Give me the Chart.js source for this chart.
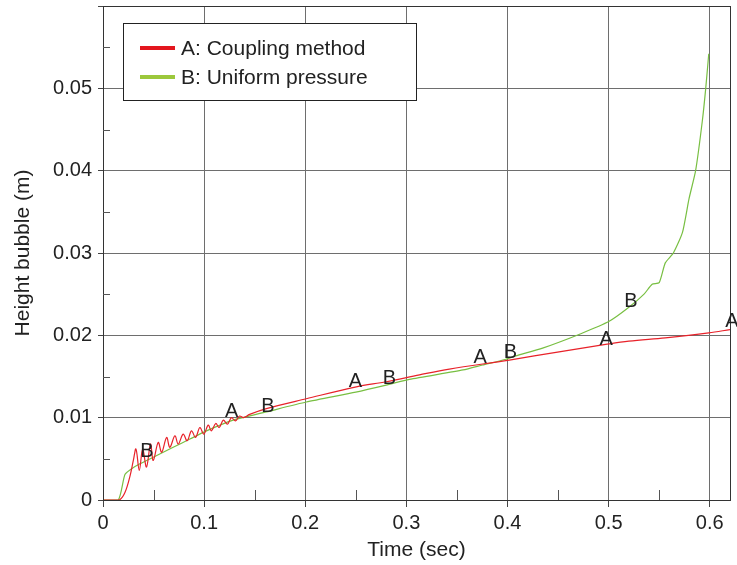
<!DOCTYPE html>
<html lang="en">
<head>
    <meta charset="UTF-8">
    <title>Height bubble vs time</title>
    <script src="https://cdn.jsdelivr.net/npm/chart.js"></script>
    <style>
        html, body { margin: 0; padding: 0; background: #fff; }
        .container { width: 737px; height: 565px; }
    </style>
</head>
<body>
    <div class="container">
        <canvas id="myChart" width="737" height="565"></canvas>
    </div>

    <script>
        // A: coupling method (red)
        const timeA = [0, 0.016, 0.0217, 0.0267, 0.030, 0.0326, 0.0359, 0.0392, 0.043, 0.047, 0.0497,
            0.0546, 0.058, 0.0629, 0.0661, 0.0711, 0.0744, 0.0793, 0.0832, 0.0875, 0.0915, 0.0958,
            0.0997, 0.104, 0.1072, 0.1115, 0.1148, 0.119, 0.123, 0.127, 0.131, 0.135, 0.139, 0.145,
            0.1616, 0.201, 0.2505, 0.280, 0.313, 0.3425, 0.4018, 0.451, 0.497, 0.520, 0.556, 0.599, 0.62];
        const heightA = [0, 0, 0.0009, 0.0029, 0.0048, 0.0062, 0.0036, 0.0062, 0.0040, 0.0068, 0.0048,
            0.0070, 0.0058, 0.0076, 0.0064, 0.0078, 0.0068, 0.0080, 0.0072, 0.0084, 0.0076, 0.0088,
            0.0080, 0.0091, 0.0084, 0.0093, 0.0088, 0.0097, 0.0092, 0.0100, 0.0096, 0.0102, 0.0100, 0.0104,
            0.0111, 0.0123, 0.01375, 0.01436, 0.0152, 0.0159, 0.0170, 0.0180, 0.0189, 0.0193, 0.0197, 0.0203, 0.0207];

        // B: uniform pressure (green)
        const timeB = [0, 0.0151, 0.0217, 0.0283, 0.0365, 0.0497, 0.0694, 0.0859, 0.1007, 0.1138, 0.1286,
            0.1616, 0.201, 0.25, 0.28, 0.303, 0.356, 0.3754, 0.3985, 0.408, 0.4347, 0.4725, 0.5005, 0.520,
            0.535, 0.543, 0.550, 0.556, 0.564, 0.573, 0.5795, 0.586, 0.5926, 0.596, 0.599];
        const heightB = [0, 0, 0.0031, 0.0038, 0.0044, 0.0052, 0.0064, 0.0074, 0.0083, 0.0090, 0.0097,
            0.0107, 0.0119, 0.0131, 0.01395, 0.01465, 0.0158, 0.0164, 0.0171, 0.0175, 0.01845, 0.0202, 0.0217, 0.0234,
            0.0250, 0.0262, 0.0264, 0.0288, 0.0300, 0.0325, 0.0366, 0.0400, 0.0460, 0.0500, 0.0542];

        // curve letters written along the lines
        const labelText = ['B', 'A', 'B', 'A', 'B', 'A', 'B', 'A', 'B', 'A'];
        const labelX = [0.0434, 0.1273, 0.163, 0.2497, 0.2833, 0.373, 0.4028, 0.4975, 0.522, 0.622];
        const labelY = [0.0059, 0.0108, 0.0113, 0.0144, 0.0147, 0.0173, 0.0179, 0.0195, 0.0241, 0.0217];

        const seriesNames = ['A: Coupling method', 'B: Uniform pressure'];
        const xMinorTicks = [0.05, 0.15, 0.25, 0.35, 0.45, 0.55];
        const yMinorTicks = [0.005, 0.015, 0.025, 0.035, 0.045, 0.055];

        const FONT = "'Liberation Sans', Arial, Helvetica, sans-serif";
        const RED = '#e8222a';
        const GREEN = '#78bf42';
        const GRID = '#6e6e6e';

        const toPoints = (xs, ys) => xs.map((x, i) => ({ x: x, y: ys[i] }));

        const extrasPlugin = {
            id: 'extras',
            afterDatasetsDraw(chart) {
                const ctx = chart.ctx;
                const area = chart.chartArea;
                const xs = chart.scales.x;
                const ys = chart.scales.y;

                ctx.save();
                // frame
                ctx.strokeStyle = '#333';
                ctx.lineWidth = 1;
                ctx.strokeRect(Math.round(area.left) + 0.5, Math.round(area.top) + 0.5,
                    Math.round(area.right - area.left), Math.round(area.bottom - area.top));

                // minor ticks pointing inward
                ctx.strokeStyle = '#555';
                ctx.beginPath();
                xMinorTicks.forEach(v => {
                    const px = Math.round(xs.getPixelForValue(v)) + 0.5;
                    ctx.moveTo(px, area.bottom);
                    ctx.lineTo(px, area.bottom - 10);
                });
                yMinorTicks.forEach(v => {
                    const py = Math.round(ys.getPixelForValue(v)) + 0.5;
                    ctx.moveTo(area.left, py);
                    ctx.lineTo(area.left + 7, py);
                });
                ctx.stroke();

                // letters on the curves
                ctx.fillStyle = '#222';
                ctx.font = '20px ' + FONT;
                ctx.textAlign = 'center';
                ctx.textBaseline = 'middle';
                labelText.forEach((t, i) => {
                    ctx.fillText(t, xs.getPixelForValue(labelX[i]), ys.getPixelForValue(labelY[i]));
                });

                // legend box
                const bx = area.left + 20, by = area.top + 17, bw = 293, bh = 77;
                ctx.fillStyle = '#fff';
                ctx.fillRect(bx, by, bw, bh);
                ctx.strokeStyle = '#222';
                ctx.strokeRect(bx + 0.5, by + 0.5, bw, bh);
                ctx.font = '21px ' + FONT;
                ctx.textAlign = 'left';
                const swatch = ['#e3161e', '#9cc83c'];
                chart.data.datasets.forEach((ds, i) => {
                    const ly = by + 25 + i * 29;
                    ctx.strokeStyle = swatch[i];
                    ctx.lineWidth = 4;
                    ctx.beginPath();
                    ctx.moveTo(bx + 17, ly);
                    ctx.lineTo(bx + 52, ly);
                    ctx.stroke();
                    ctx.fillStyle = '#222';
                    ctx.fillText(ds.label, bx + 58, ly + 1);
                });
                ctx.restore();
            }
        };

        const ctx = document.getElementById('myChart').getContext('2d');
        const chart = new Chart(ctx, {
            type: 'scatter',
            data: {
                datasets: [{
                    label: seriesNames[0],
                    data: toPoints(timeA, heightA),
                    showLine: true,
                    borderColor: RED,
                    borderWidth: 1.2,
                    pointRadius: 0,
                    tension: 0.35
                }, {
                    label: seriesNames[1],
                    data: toPoints(timeB, heightB),
                    showLine: true,
                    borderColor: GREEN,
                    borderWidth: 1.2,
                    pointRadius: 0,
                    tension: 0.2
                }]
            },
            options: {
                responsive: false,
                animation: false,
                layout: { padding: { top: 6, right: 7, left: 0, bottom: 0 } },
                plugins: {
                    legend: { display: false },
                    tooltip: { enabled: false }
                },
                scales: {
                    x: {
                        type: 'linear',
                        min: 0,
                        max: 0.62,
                        afterFit(scale) {
                            scale.height = 65;
                            scale.paddingLeft = 0;
                            scale.paddingRight = 0;
                        },
                        ticks: {
                            stepSize: 0.1,
                            includeBounds: false,
                            padding: 4,
                            color: '#222',
                            font: { family: FONT, size: 20 },
                            maxRotation: 0,
                            callback: v => String(+v.toFixed(2))
                        },
                        grid: {
                            color: GRID,
                            tickColor: '#444',
                            tickLength: 7
                        },
                        border: { color: '#555' },
                        title: {
                            display: true,
                            text: 'Time (sec)',
                            color: '#222',
                            font: { family: FONT, size: 21 },
                            padding: { top: 0, bottom: 2 }
                        }
                    },
                    y: {
                        min: 0,
                        max: 0.06,
                        afterFit(scale) {
                            scale.width = 103;
                            scale.paddingTop = 0;
                            scale.paddingBottom = 0;
                        },
                        ticks: {
                            stepSize: 0.01,
                            includeBounds: false,
                            padding: 6,
                            color: '#222',
                            font: { family: FONT, size: 20 },
                            callback: v => v > 0.055 ? '' : String(+v.toFixed(2))
                        },
                        grid: {
                            color: GRID,
                            tickColor: '#444',
                            tickLength: 5
                        },
                        border: { color: '#555' },
                        title: {
                            display: true,
                            text: 'Height bubble (m)',
                            color: '#222',
                            font: { family: FONT, size: 21 },
                            padding: { top: 11, bottom: 0 }
                        }
                    }
                }
            },
            plugins: [extrasPlugin]
        });
    </script>
</body>
</html>
